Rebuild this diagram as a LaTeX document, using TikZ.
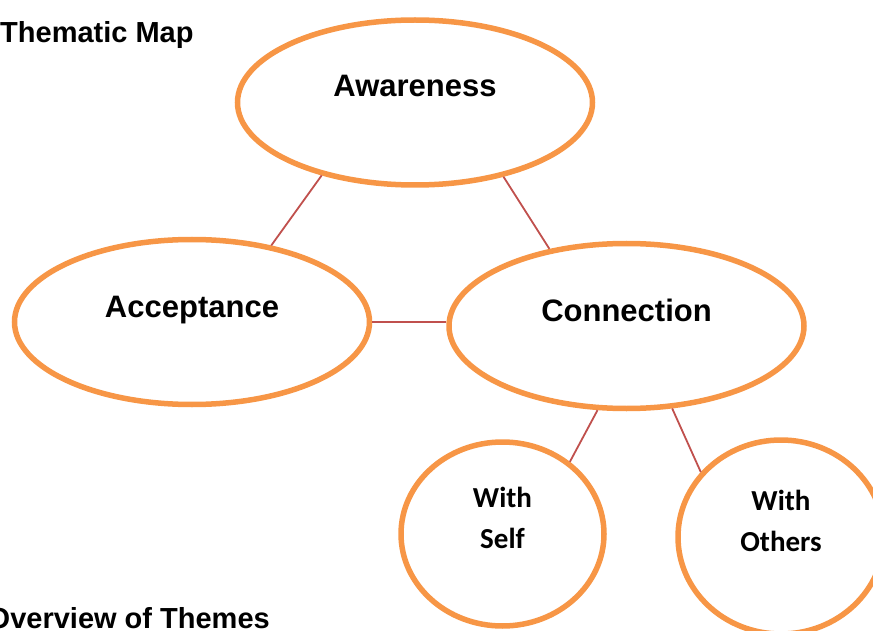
\documentclass[tikz,border=0pt]{standalone}
\usepackage{fontspec}
\setmainfont{Liberation Sans}
\newfontfamily\calibri{Carlito}
\usepackage{xcolor}
\usetikzlibrary{shapes.geometric,positioning,calc}
\definecolor{themeorange}{HTML}{F79646}
\definecolor{linkred}{HTML}{C0504D}

\begin{document}
\begin{tikzpicture}[x=1pt, y=-1pt,
    theme/.style={ellipse, draw=themeorange, line width=5.5pt, fill=white, inner sep=0pt},
    bigtheme/.style={theme, minimum width=355pt, minimum height=165pt},
    subtheme/.style={theme, minimum width=203pt, minimum height=184pt},
    bigtext/.style={font=\bfseries\fontsize{31}{37}\selectfont, inner sep=0pt, anchor=base},
    subtext/.style={font=\calibri\bfseries\fontsize{29}{41}\selectfont, align=center, inner sep=0pt},
    heading/.style={font=\bfseries\fontsize{29}{35}\selectfont, inner sep=0pt},
    link/.style={draw=linkred, line width=1.8pt}]
    \useasboundingbox (0,0) rectangle (873,631);
    % headings
    \node [heading, anchor=base west] (title) at (0,43) {Thematic Map};
    \node [heading, anchor=base east] (overview) at (270,628) {Overview of Themes};
    % main themes
    \node [bigtheme] (aw) at (415,102.5) {};
    \node [bigtheme] (ac) at (192,322) {};
    \node [bigtheme] (cn) at (626.5,326) {};
    \node [bigtext] (awtext) at ([yshift=6pt]aw.center) {Awareness};
    \node [bigtext] (actext) at ([yshift=5pt]ac.center) {Acceptance};
    \node [bigtext] (cntext) at ([yshift=5pt]cn.center) {Connection};
    % sub themes of connection
    \node [subtheme] (self) at (502.5,534) {};
    \node [subtheme, minimum height=194pt, minimum width=206pt] (others) at (781,537) {};
    \node [subtext] (selftext) at ([yshift=16pt]self.center) {With\\Self};
    \node [subtext] (otherstext) at ([yshift=16pt]others.center) {With\\Others};
    % links
    \draw [link] (aw.218) -- (ac.44);
    \draw [link] (aw.320) -- (cn.135);
    \draw [link] (ac.east) -- (ac.east -| cn.west);
    \draw [link] (cn.251) -- (self.47);
    \draw [link] (cn.299) -- (others.141);
\end{tikzpicture}
\end{document}
